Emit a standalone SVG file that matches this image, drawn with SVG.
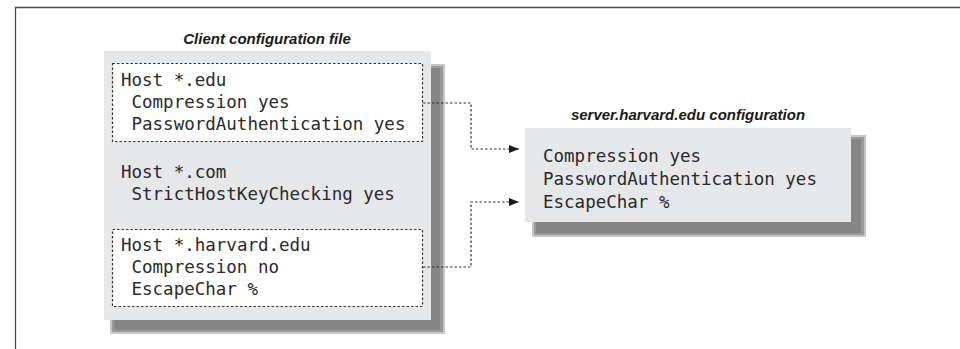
<svg xmlns="http://www.w3.org/2000/svg" width="960" height="349" viewBox="0 0 960 349">
<style>
.frame{fill:none;stroke:#4a4a4a;stroke-width:1.3}
.panel{fill:#e6e7e8}
.sh1{fill:#c6c6c6}
.sh2{fill:#9a9a9a}
.sh3{fill:#858585}
.dot{fill:#fff;stroke:#333;stroke-width:1.2;stroke-dasharray:2.5,2}
.conn{fill:none;stroke:#333;stroke-width:1.2;stroke-dasharray:2.5,2}
.title{font-family:"Liberation Sans Narrow","Liberation Sans",sans-serif;font-weight:bold;font-style:italic;font-size:15px;fill:#1a1a1a;text-anchor:middle}
.code{font-family:"DejaVu Sans Mono",monospace;font-size:17.5px;fill:#2a2a2a}
</style>
<defs>
<marker id="arr" viewBox="0 0 10 8" refX="10" refY="4" markerWidth="10" markerHeight="8" markerUnits="userSpaceOnUse" orient="auto">
<path d="M0,0 L10,4 L0,8 Z" fill="#1a1a1a"/>
</marker>
</defs>
<path class="frame" d="M15.5,349 V7.5 H960"/>

<g id="client">
<text class="title" x="267" y="44">Client configuration file</text>
<rect class="sh1" x="110" y="64" width="335" height="270"/>
<rect class="sh2" x="112" y="66" width="331" height="266"/>
<rect class="sh3" x="114" y="68" width="326" height="262"/>
<rect class="panel" x="104" y="51" width="327" height="269"/>
<g id="host-edu">
<rect class="dot" x="112.5" y="63.5" width="310" height="78"/>
<text class="code" x="121" y="86">Host *.edu</text>
<text class="code" x="131.5" y="108">Compression yes</text>
<text class="code" x="131.5" y="130">PasswordAuthentication yes</text>
</g>
<g id="host-com">
<text class="code" x="121" y="178">Host *.com</text>
<text class="code" x="131.5" y="200">StrictHostKeyChecking yes</text>
</g>
<g id="host-harvard">
<rect class="dot" x="112.5" y="229.5" width="310" height="77"/>
<text class="code" x="121" y="251">Host *.harvard.edu</text>
<text class="code" x="131.5" y="273">Compression no</text>
<text class="code" x="131.5" y="295">EscapeChar %</text>
</g>
</g>

<g id="server">
<text class="title" x="688" y="120">server.harvard.edu configuration</text>
<rect class="sh1" x="532" y="135" width="334" height="102"/>
<rect class="sh2" x="534" y="137" width="330" height="98"/>
<rect class="sh3" x="536" y="139" width="325" height="94"/>
<rect class="panel" x="525" y="128" width="326" height="94"/>
<text class="code" x="543" y="162">Compression yes</text>
<text class="code" x="543" y="185">PasswordAuthentication yes</text>
<text class="code" x="543" y="208">EscapeChar %</text>
</g>

<g id="connectors">
<path class="conn" d="M423,103 H471 V149 H519" marker-end="url(#arr)"/>
<path class="conn" d="M423,267 H471 V202 H519" marker-end="url(#arr)"/>
</g>
</svg>
